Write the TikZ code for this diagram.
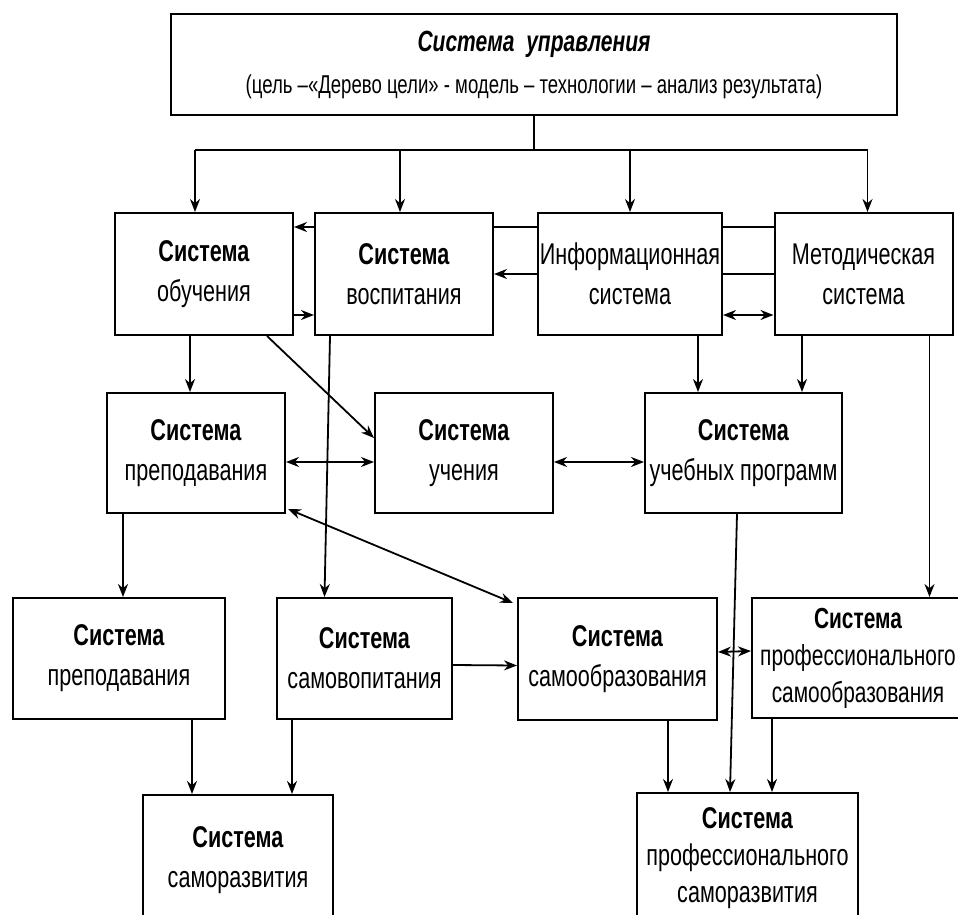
\documentclass[tikz,border=0pt]{standalone}
\usepackage{fontspec}
\setmainfont{Liberation Sans}[FakeStretch=0.72]
\usetikzlibrary{arrows.meta}

\begin{document}
\begin{tikzpicture}[x=0.5pt, y=-0.5pt,
  box/.style={draw, fill=white, line width=1pt, align=center, inner sep=0pt,
    minimum width=89pt, minimum height=61pt, font=\fontsize{15}{20}\selectfont},
  arr/.style={line width=0.9pt, -{Stealth[length=6.5pt,width=5pt]}},
  darr/.style={line width=0.9pt, {Stealth[length=6.5pt,width=5pt]}-{Stealth[length=6.5pt,width=5pt]}},
  ln/.style={line width=0.9pt}]
  \useasboundingbox (0,0) rectangle (958,915);
  % top
  \node[box, minimum width=363pt, minimum height=50.5pt, font=\fontsize{12.9}{21}\selectfont] (upr) at (534,64.5)
    {{\fontsize{14.6}{21}\selectfont\bfseries\itshape Система\ \ управления}\\(цель –«Дерево цели» - модель – технологии – анализ результата)};
  % row 1
  \node[box] (obuch) at (204,274) {\textbf{Система}\\обучения};
  \node[box] (vosp) at (404,274) {\textbf{Система}\\воспитания};
  \node[box, minimum width=92pt] (inform) at (630,274) {Информационная\\система};
  \node[box] (metod) at (863.5,274) {Методическая\\система};
  % row 2
  \node[box, minimum height=60pt] (prep) at (196,453) {\textbf{Система}\\преподавания};
  \node[box, minimum height=60pt] (uch) at (464,453) {\textbf{Система}\\учения};
  \node[box, minimum width=98.5pt, minimum height=60pt] (progr) at (743.5,453) {\textbf{Система}\\учебных программ};
  % row 3
  \node[box, minimum width=106pt, minimum height=60.5pt] (prepb) at (119,658.5) {\textbf{Система}\\преподавания};
  \node[box, minimum width=87.5pt, minimum height=60.5pt] (samovosp) at (364.5,658.5) {\textbf{Система}\\самовопитания};
  \node[box, minimum width=99.5pt, minimum height=61pt] (samoobr) at (617.5,659) {\textbf{Система}\\самообразования};
  \node[box, minimum width=106pt, minimum height=60pt, font=\fontsize{14.5}{18.5}\selectfont] (profobr) at (858,658)
    {\textbf{Система}\\профессионального\\самообразования};
  % row 4
  \node[box, minimum width=95pt, minimum height=65pt] (samorazv) at (238,860) {\textbf{Система}\\саморазвития};
  \node[box, minimum width=110.5pt, minimum height=65pt, font=\fontsize{15}{18.5}\selectfont] (profrazv) at (747.5,858)
    {\textbf{Система}\\профессионального\\саморазвития};

  % bus from the top box
  \coordinate (bus) at (534,150);
  \draw[ln] (upr.south) -- (bus);
  \draw[ln] ([xshift=-4.5pt]obuch.north |- bus) -- ([xshift=2pt]metod.north |- bus);
  \foreach \n/\s in {obuch/-4.5pt, vosp/-2pt, inform/0pt, metod/2pt}
    \draw[arr] ([xshift=\s]\n.north |- bus) -- ([xshift=\s]\n.north);

  % row 1 links
  \draw[ln] ([yshift=23.5pt]metod.west) -- ([yshift=23.5pt]inform.east);
  \draw[ln] ([yshift=23.5pt]inform.west) -- ([yshift=23.5pt]vosp.east);
  \draw[arr] ([yshift=23.5pt]vosp.west) -- ([yshift=23.5pt]obuch.east);
  \draw[ln] (metod.west) -- (inform.east);
  \draw[arr] (inform.west) -- (vosp.east);
  \draw[arr] ([yshift=-20.5pt]obuch.east) -- ([yshift=-20.5pt]vosp.west);
  \draw[darr] ([yshift=-20.5pt]inform.east) -- ([yshift=-20.5pt]metod.west);

  % row 1 -> row 2
  \draw[arr] ([xshift=-7pt]obuch.south) -- ([xshift=-7pt]obuch.south |- prep.north);
  \draw[arr] ([xshift=31.5pt]obuch.south) -- ([yshift=7.5pt]uch.west);
  \draw[arr] ([xshift=-37pt]vosp.south) -- ([xshift=-20pt]samovosp.north);
  \draw[arr] ([xshift=34pt]inform.south) -- ([xshift=34pt]inform.south |- progr.north);
  \draw[arr] ([xshift=-30.75pt]metod.south) -- ([xshift=-30.75pt]metod.south |- progr.north);
  \draw[arr] ([xshift=33pt]metod.south) -- ([xshift=33pt]metod.south |- profobr.north);

  % row 2 links
  \draw[darr] ([yshift=-4.5pt]prep.east) -- ([yshift=-4.5pt]uch.west);
  \draw[darr] ([yshift=-4.5pt]uch.east) -- ([yshift=-4.5pt]progr.west);

  % row 2 -> row 3
  \draw[arr] ([xshift=-36.5pt]prep.south) -- ([xshift=-36.5pt]prep.south |- prepb.north);
  \draw[darr] ([shift={(1pt,2.5pt)}]prep.south east) -- ([shift={(-2pt,-3pt)}]samoobr.north west);
  \draw[arr] ([xshift=-3.25pt]progr.south) -- ([xshift=-8.75pt]profrazv.north);

  % row 3 links
  \draw[arr] ([yshift=-3.25pt]samovosp.east) -- ([yshift=-3.25pt]samoobr.west);
  \draw[darr] ([yshift=3.5pt]samoobr.east) -- ([yshift=3.5pt]profobr.west);

  % row 3 -> row 4
  \draw[arr] ([xshift=36.5pt]prepb.south) -- ([xshift=36.5pt]prepb.south |- samorazv.north);
  \draw[arr] ([xshift=-36.25pt]samovosp.south) -- ([xshift=-36.25pt]samovosp.south |- samorazv.north);
  \draw[arr] ([xshift=25.25pt]samoobr.south) -- ([xshift=25.25pt]samoobr.south |- profrazv.north);
  \draw[arr] ([xshift=-43pt]profobr.south) -- ([xshift=-43pt]profobr.south |- profrazv.north);
\end{tikzpicture}
\end{document}
